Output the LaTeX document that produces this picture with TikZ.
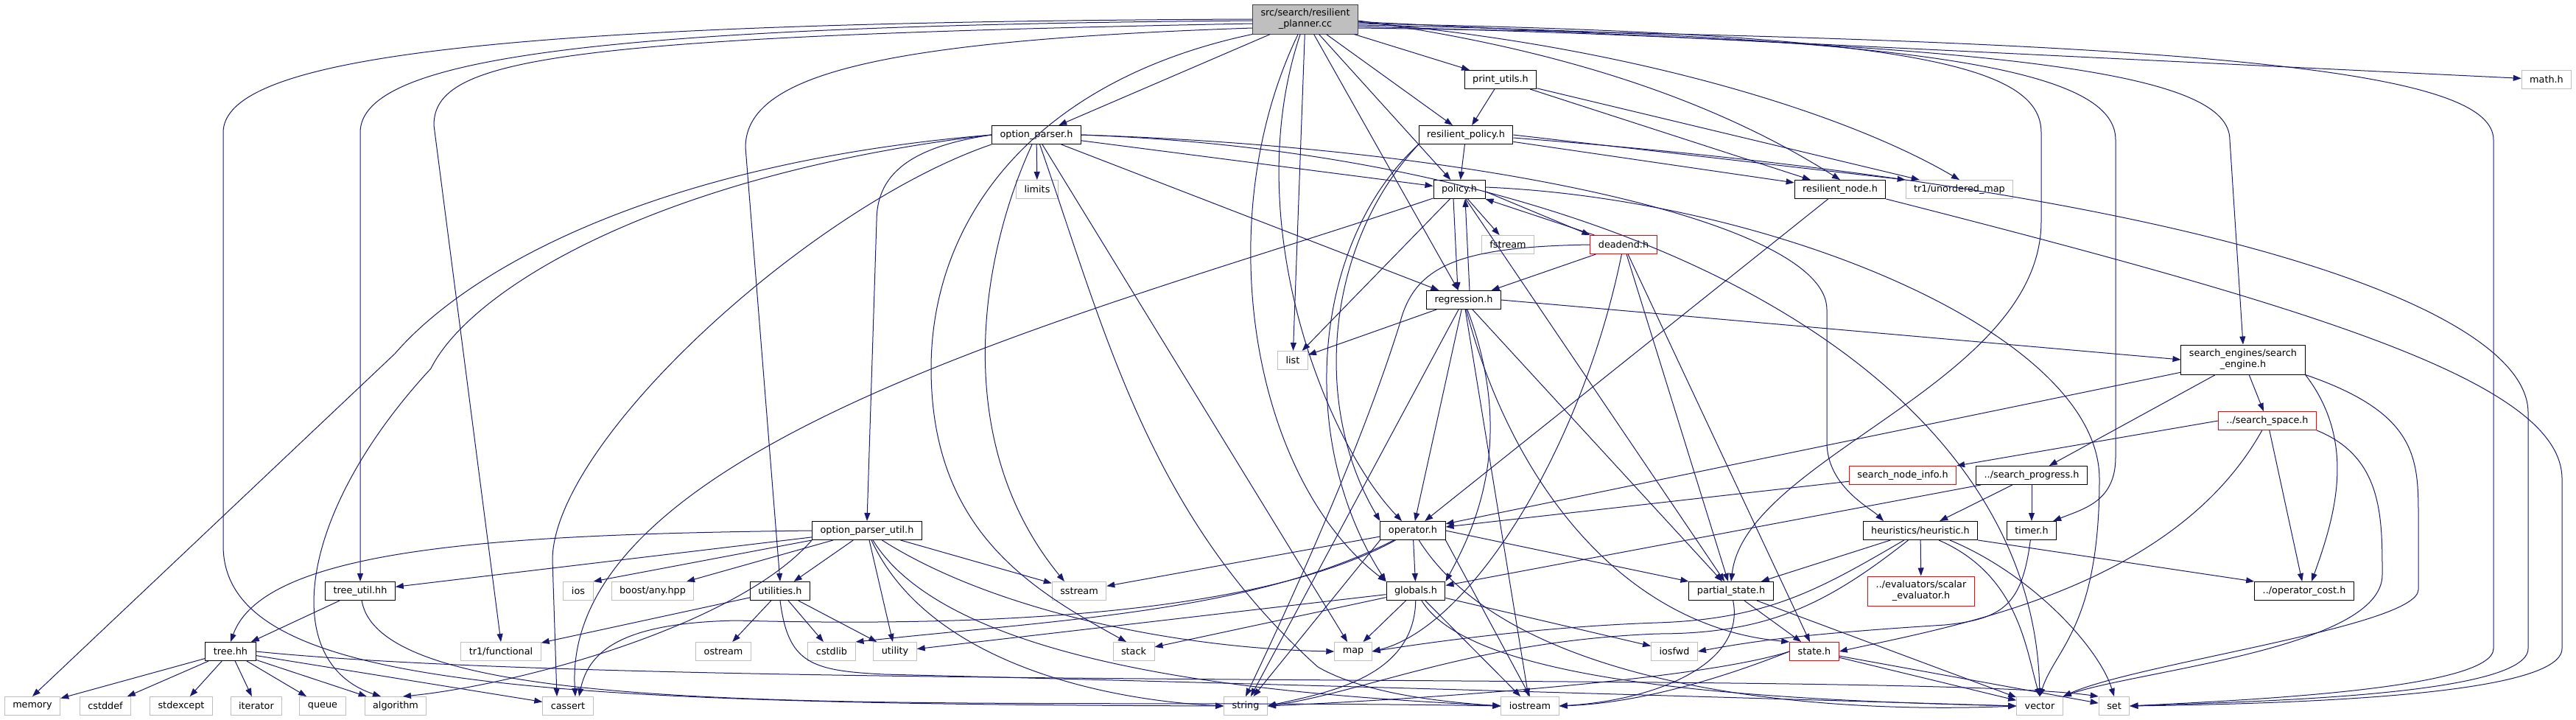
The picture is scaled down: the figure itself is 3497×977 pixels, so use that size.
\documentclass[tikz,border=0pt]{standalone}
\usepackage{fontspec}
\setmainfont{DejaVu Sans}
\usetikzlibrary{arrows.meta}
\definecolor{incblue}{HTML}{191970}
\definecolor{sysgray}{HTML}{BFBFBF}
\definecolor{maingray}{HTML}{BFBFBF}
\definecolor{mainedge}{HTML}{404040}
\definecolor{undocred}{HTML}{FF0000}
\newcommand{\gfont}{\fontsize{12.8}{15}\selectfont}

\begin{document}
\begin{tikzpicture}[x=1pt,y=-1pt,
  hdrbox/.style={draw=black, fill=white, line width=1pt, font=\gfont, inner xsep=11pt, inner ysep=0pt, minimum height=25pt, align=center},
  sysbox/.style={hdrbox, draw=sysgray},
  redbox/.style={hdrbox, draw=undocred},
  srcbox/.style={hdrbox, fill=maingray, draw=mainedge, minimum height=40pt},
  inc/.style={draw=incblue, line width=1pt, -{Triangle[length=11pt,width=8pt]}}]
\useasboundingbox (0,0) rectangle (3497,977);

% rank 0 - 3
\node[srcbox] (top) at (1772,26) {src/search/resilient\\\_planner.cc};
\node[hdrbox] (printutils) at (2037,108) {print\_utils.h};
\node[sysbox] (math) at (3457,108) {math.h};
\node[hdrbox] (optparser) at (1407,183) {option\_parser.h};
\node[hdrbox] (respolicy) at (1990,183) {resilient\_policy.h};
\node[sysbox] (limits) at (1408,257) {limits};
\node[hdrbox] (policy) at (1981,257) {policy.h};
\node[hdrbox] (resnode) at (2498,257) {resilient\_node.h};
\node[sysbox] (umap) at (2660,257) {tr1/unordered\_map};

% rank 4 - 9
\node[sysbox] (fstream) at (2047,332) {fstream};
\node[redbox] (deadend) at (2204,332) {deadend.h};
\node[hdrbox] (regression) at (1987,407) {regression.h};
\node[sysbox] (list) at (1755,489) {list};
\node[hdrbox, minimum height=40pt] (sengine) at (3045,488) {search\_engines/search\\\_engine.h};
\node[redbox] (sspace) at (3078,571) {../search\_space.h};
\node[redbox] (snodeinfo) at (2583,645) {search\_node\_info.h};
\node[hdrbox] (sprogress) at (2758,645) {../search\_progress.h};
\node[hdrbox] (optutil) at (1177,720) {option\_parser\_util.h};
\node[hdrbox] (operator) at (1918,720) {operator.h};
\node[hdrbox] (heuristic) at (2607,720) {heuristics/heuristic.h};
\node[hdrbox] (timer) at (2758,720) {timer.h};

% rank 10
\node[hdrbox] (treeutil) at (489,802) {tree\_util.hh};
\node[sysbox] (ios) at (785,802) {ios};
\node[sysbox] (boostany) at (886,802) {boost/any.hpp};
\node[hdrbox] (utilities) at (1059,802) {utilities.h};
\node[sysbox] (sstream) at (1465,802) {sstream};
\node[hdrbox] (globals) at (1922,802) {globals.h};
\node[hdrbox] (pstate) at (2350,802) {partial\_state.h};
\node[redbox, minimum height=40pt] (scalareval) at (2608,802) {../evaluators/scalar\\\_evaluator.h};
\node[hdrbox] (opcost) at (3128,802) {../operator\_cost.h};

% rank 11
\node[hdrbox] (tree) at (313,884) {tree.hh};
\node[sysbox] (functional) at (680,884) {tr1/functional};
\node[sysbox] (ostream) at (982,884) {ostream};
\node[sysbox] (cstdlib) at (1129,884) {cstdlib};
\node[sysbox] (utility) at (1215,884) {utility};
\node[sysbox] (stack) at (1539,884) {stack};
\node[sysbox] (map) at (1837,884) {map};
\node[sysbox] (iosfwd) at (2273,884) {iosfwd};
\node[redbox] (state) at (2463,884) {state.h};

% rank 12
\node[sysbox] (memory) at (44,958) {memory};
\node[sysbox] (cstddef) at (143,958) {cstddef};
\node[sysbox] (stdexcept) at (246,958) {stdexcept};
\node[sysbox] (iterator) at (348,958) {iterator};
\node[sysbox] (queue) at (438,958) {queue};
\node[sysbox] (algorithm) at (537,958) {algorithm};
\node[sysbox] (cassert) at (771,958) {cassert};
\node[sysbox] (string) at (1691,958) {string};
\node[sysbox] (iostream) at (2077,958) {iostream};
\node[sysbox] (vector) at (2769,958) {vector};
\node[sysbox] (set) at (2870,958) {set};

% planner
\draw[inc] (top) -- (optparser);
\draw[inc] (top) -- (printutils);
\draw[inc] (top) -- (respolicy);
\draw[inc] (top) -- (policy);
\draw[inc] (top) -- (regression);
\draw[inc] (top) -- (list);
\draw[inc] (top) .. controls (1680,300) and (1800,600) .. ([xshift=-15pt]operator.north);
\draw[inc] (top) .. controls (1640,300) and (1700,650) .. (globals.north west);
\draw[inc] ([yshift=-2pt]top.east) .. controls (2150,70) and (2350,150) .. (resnode.north);
\draw[inc] ([yshift=-4pt]top.east) .. controls (2200,60) and (2500,150) .. (umap.north);
\draw[inc] (top) -- (math);
\draw[inc] ([yshift=-6pt]top.east) .. controls (2600,45) and (2771,90) .. (2771,180) -- (2771,300) .. controls (2771,520) and (2370,620) .. (pstate.north);
\draw[inc] ([yshift=-8pt]top.east) .. controls (2650,50) and (2872,100) .. (2872,190) -- (2872,620) .. controls (2872,680) and (2830,690) .. ([xshift=-5pt]timer.north east);
\draw[inc] ([yshift=-10pt]top.east) .. controls (2750,60) and (3027,100) .. (3027,190) -- (sengine.north);
\draw[inc] ([yshift=-12pt]top.east) .. controls (3050,55) and (3385,100) .. (3385,190) -- (3385,880) .. controls (3385,935) and (3050,950) .. (set.east);
\draw[inc] ([yshift=-12pt]top.west) .. controls (1200,55) and (1012,100) .. (1012,200) -- (utilities.north);
\draw[inc] ([yshift=-6pt]top.west) .. controls (750,50) and (589,80) .. (589,170) -- (functional.north);
\draw[inc] ([yshift=-2pt]top.west) .. controls (800,35) and (489,80) .. (489,180) -- (treeutil.north);
\draw[inc] (top.west) .. controls (650,30) and (303,80) .. (303,180) -- (303,740) .. controls (303,930) and (700,955) .. (string.west);
\draw[inc] (top.south west) .. controls (1400,110) and (1264,300) .. (1264,500) .. controls (1264,720) and (1400,800) .. ([xshift=-10pt]stack.north);

% print_utils
\draw[inc] (printutils) -- (respolicy);
\draw[inc] (printutils) -- (resnode);
\draw[inc] (printutils) -- (umap);

% option_parser
\draw[inc] (optparser) -- (limits);
\draw[inc] (optparser) -- (policy);
\draw[inc] (optparser) -- (regression);
\draw[inc] (optparser.west) .. controls (1230,200) and (1190,240) .. (1190,300) -- (optutil.north);
\draw[inc] (optparser) .. controls (1330,350) and (1290,600) .. ([xshift=-20pt]sstream.north);
\draw[inc] (optparser) -- (map);
\draw[inc] (optparser.west) .. controls (900,220) and (640,360) .. (536,480) -- (memory.north);
\draw[inc] (optparser.west) .. controls (900,235) and (640,390) .. (585,500) .. controls (400,700) and (380,900) .. ([xshift=-20pt]algorithm.north);
\draw[inc] (optparser.south west) .. controls (1100,280) and (750,600) .. (750,760) -- ([xshift=-15pt]cassert.north);
\draw[inc] (optparser.east) .. controls (2000,200) and (2480,300) .. (2480,420) -- (2480,600) .. controls (2480,660) and (2540,690) .. ([xshift=-50pt]heuristic.north);
\draw[inc] (optparser.east) .. controls (2200,210) and (2760,500) .. (vector.north);
\draw[inc] (optparser) .. controls (1500,450) and (1560,700) .. (1789,905) .. controls (1850,940) and (1950,952) .. (iostream.west);

% resilient_policy
\draw[inc] (respolicy) -- (policy);
\draw[inc] (respolicy) -- (resnode);
\draw[inc] (respolicy.east) -- (umap.north west);
\draw[inc] (respolicy.south west) .. controls (1800,330) and (1780,550) .. (operator.north west);
\draw[inc] (respolicy.south west) .. controls (1780,330) and (1760,600) .. (globals.north west);
\draw[inc] ([yshift=-4pt]respolicy.east) .. controls (3000,260) and (3432,420) .. (3432,560) -- (3432,880) .. controls (3432,945) and (3050,952) .. (set.east);

% resilient_node
\draw[inc] (resnode) -- (operator);
\draw[inc] (resnode.south east) .. controls (3150,420) and (3478,520) .. (3478,650) -- (3478,880) .. controls (3478,945) and (3100,955) .. (set.east);

% policy
\draw[inc] ([xshift=-8pt]policy.south) -- ([xshift=-8pt]regression.north);
\draw[inc] (policy) -- (fstream);
\draw[inc] ([yshift=-3pt]policy.east) -- (deadend.north west);
\draw[inc] (policy) -- (list);
\draw[inc] (policy) .. controls (1500,420) and (760,600) .. ([xshift=10pt]cassert.north);
\draw[inc] (policy) -- (pstate);
\draw[inc] ([yshift=3pt]policy.east) .. controls (2400,270) and (2850,450) .. (2850,650) .. controls (2850,850) and (2790,880) .. (vector.north);

% deadend
\draw[inc] ([xshift=6pt]deadend.north west) -- (policy.south east);
\draw[inc] (deadend) -- (regression);
\draw[inc] (deadend) .. controls (2150,600) and (2000,850) .. (map.east);
\draw[inc] (deadend.west) .. controls (1980,335) and (1920,360) .. (1900,440) .. controls (1850,600) and (1760,800) .. (string.north);
\draw[inc] (deadend) -- (pstate);
\draw[inc] (deadend) -- (state);

% regression
\draw[inc] ([xshift=8pt]regression.north) -- ([xshift=8pt]policy.south);
\draw[inc] (regression) -- (list);
\draw[inc] (regression.east) -- (sengine.west);
\draw[inc] (regression) -- (operator);
\draw[inc] (regression) .. controls (2060,600) and (2000,720) .. (globals.north east);
\draw[inc] (regression) -- (pstate);
\draw[inc] (regression) .. controls (2050,650) and (2200,850) .. (state.north west);
\draw[inc] (regression) -- (string);
\draw[inc] (regression) -- (iostream);

% search engine
\draw[inc] (sengine) -- (operator);
\draw[inc] (sengine) -- (sprogress);
\draw[inc] (sengine) -- (sspace);
\draw[inc] (sengine.south east) .. controls (3200,600) and (3170,700) .. ([xshift=10pt]opcost.north);
\draw[inc] (sengine.south east) .. controls (3280,560) and (3283,620) .. (3283,700) -- (3283,800) .. controls (3283,850) and (2900,900) .. (vector.north east);

% search space
\draw[inc] (sspace.west) -- (snodeinfo.north east);
\draw[inc] (sspace) -- (opcost);
\draw[inc] (sspace) .. controls (2950,800) and (2650,850) .. (state.east);
\draw[inc] (sspace.south east) .. controls (3234,620) and (3234,700) .. (3234,780) .. controls (3234,880) and (2900,910) .. (vector.north east);

% search node info, search progress
\draw[inc] (snodeinfo) -- (operator);
\draw[inc] (sprogress) -- (heuristic);
\draw[inc] (sprogress) -- (timer);
\draw[inc] (sprogress) -- (globals);

% heuristic
\draw[inc] (heuristic) -- (pstate);
\draw[inc] (heuristic) -- (scalareval);
\draw[inc] (heuristic.south east) -- (opcost.north west);
\draw[inc] (heuristic) .. controls (2470,800) and (2400,840) .. (2250,845) .. controls (2100,850) and (1950,870) .. (map.east);
\draw[inc] (heuristic) .. controls (2480,820) and (2400,860) .. (2250,860) .. controls (2000,870) and (1850,940) .. (string.east);
\draw[inc] ([xshift=25pt]heuristic.south) .. controls (2740,780) and (2750,880) .. (vector.north);
\draw[inc] ([xshift=40pt]heuristic.south) .. controls (2760,780) and (2850,880) .. (set.north);

% timer
\draw[inc] (timer) .. controls (2745,820) and (2720,840) .. (2640,848) .. controls (2450,860) and (2380,870) .. (iosfwd.east);

% option_parser_util
\draw[inc] (optutil.west) .. controls (700,725) and (360,740) .. (tree.north);
\draw[inc] (optutil) -- (treeutil);
\draw[inc] (optutil.south west) -- (ios.north east);
\draw[inc] (optutil) -- (boostany);
\draw[inc] (optutil) -- (utilities);
\draw[inc] (optutil.south west) .. controls (1000,850) and (700,930) .. ([xshift=10pt]algorithm.north);
\draw[inc] (optutil) -- (utility);
\draw[inc] (optutil) -- (sstream);
\draw[inc] (optutil) .. controls (1350,830) and (1600,880) .. (map.west);
\draw[inc] (optutil) .. controls (1260,900) and (1500,950) .. (string.west);
\draw[inc] (optutil) .. controls (1300,920) and (1800,945) .. (iostream.west);

% operator
\draw[inc] (operator) .. controls (1700,840) and (1300,850) .. (1000,842) .. controls (850,845) and (800,880) .. ([xshift=15pt]cassert.north);
\draw[inc] (operator) -- (sstream);
\draw[inc] (operator) .. controls (1700,830) and (1450,840) .. (cstdlib.north east);
\draw[inc] (operator) -- (globals);
\draw[inc] (operator.east) -- (pstate.north west);
\draw[inc] (operator.south west) -- (string);
\draw[inc] (operator.south east) -- (iostream.north);
\draw[inc] (operator) .. controls (2050,930) and (2450,970) .. (vector.west);

% globals
\draw[inc] (globals) -- (utility);
\draw[inc] (globals) -- (stack);
\draw[inc] (globals) -- (map);
\draw[inc] (globals) .. controls (1920,920) and (1800,940) .. (string.east);
\draw[inc] (globals) -- (iostream);
\draw[inc] (globals) -- (iosfwd);
\draw[inc] (globals) .. controls (2000,930) and (2400,950) .. (vector.west);

% partial_state, state
\draw[inc] (pstate) -- (state);
\draw[inc] (pstate) -- (vector);
\draw[inc] (pstate) .. controls (2370,900) and (2250,950) .. (iostream.east);
\draw[inc] (state.west) .. controls (2300,925) and (1900,950) .. (string.east);
\draw[inc] (state.west) .. controls (2300,935) and (2200,955) .. (iostream.east);
\draw[inc] (state) -- (vector);
\draw[inc] (state) -- (set);

% utilities
\draw[inc] (utilities) -- (functional);
\draw[inc] (utilities) -- (ostream);
\draw[inc] (utilities) -- (cstdlib);
\draw[inc] (utilities) -- (utility);
\draw[inc] (utilities.south) .. controls (1070,900) and (1100,910) .. (1200,915) .. controls (1800,930) and (2300,945) .. (vector.west);

% tree_util, tree
\draw[inc] (treeutil) -- (tree);
\draw[inc] (treeutil) .. controls (520,990) and (1300,945) .. (iostream.west);
\draw[inc] (tree) -- (memory);
\draw[inc] (tree) -- (cstddef);
\draw[inc] (tree) -- (stdexcept);
\draw[inc] (tree) -- (iterator);
\draw[inc] (tree) -- (queue);
\draw[inc] (tree) -- (algorithm);
\draw[inc] (tree) -- (cassert);
\draw[inc] (tree.east) .. controls (900,940) and (2600,910) .. (set.north west);
\end{tikzpicture}
\end{document}
